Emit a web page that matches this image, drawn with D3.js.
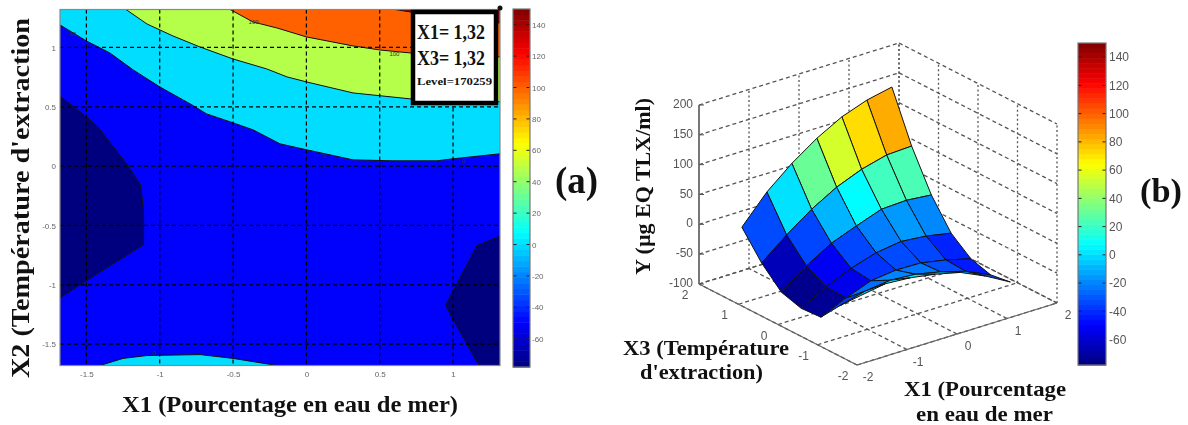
<!DOCTYPE html>
<html lang="en">
<head>
    <meta charset="UTF-8">
    <title>Surface de réponse</title>
    <style>
        html, body { margin: 0; padding: 0; background: #fff; }
        svg { display: block; filter: blur(0.4px); }
        .lbl { font-family: "Liberation Serif", serif; font-weight: bold; fill: #111; }
        .tick text { font-family: "Liberation Sans", sans-serif; }
    </style>
</head>
<body>
    <svg width="1188" height="425"></svg>
    <script src="https://d3js.org/d3.v7.min.js"></script>
    <script>
        // contour panel, boundaries in data units [X1, X2]
        var contourTicks = [-1.5, -1, -0.5, 0, 0.5, 1]
        var colorbarTicks = [-60, -40, -20, 0, 20, 40, 60, 80, 100, 120, 140]
        var boundaryDarkLeft = [[-1.68,.59],[-1.5,.415],[-1.42,.33],[-1.34,.2],[-1.22,.01],[-1.13,-.16],[-1.11,-.38],[-1.11,-.66],[-1.5,-.965],[-1.68,-1.11]]
        var boundaryDarkRight = [[1.32,-.59],[1.163,-.67],[.95,-1.17],[.99,-1.27],[1.177,-1.68]]
        var boundaryCyan = [[-1.68,1.19],[-1.5,1.055],[-1.34,.954],[-1.18,.81],[-1,.668],[-.78,.516],[-.68,.44],[-.5,.365],[-.364,.306],[-.18,.188],[0,.138],[.318,.053],[.59,.045],[.89,.045],[1,.062],[1.32,.104]]
        var boundaryGreen = [[-1.23,1.32],[-1.087,1.198],[-.91,1.097],[-.725,1.004],[-.5,.903],[-.27,.819],[-.132,.752],[0,.71],[.318,.617],[.706,.567],[1.32,.542]]
        var boundaryOrange = [[-.52,1.32],[-.364,1.215],[-.2,1.164],[0,1.089],[.318,1.013],[.5,.979],[.706,.954],[1.32,.92]]
        var boundaryRed = [[.604,1.32],[.706,1.3],[1.32,1.206]]
        var boundaryBottom = [[-1.407,-1.68],[-1.25,-1.62],[-1.087,-1.596],[-.725,-1.588],[-.5,-1.62],[-.2,-1.68]]
        var contourLabels = [[-.36,1.2,'100'],[.6,.93,'100'],[-1.6,1.1,'-60'],[-1.04,-1.59,'0'],[.12,.07,'0'],[1.07,.03,'0']]

        // surface panel, rows go x3 = -1.68 ... 1.32, columns x1 = -1.68 ... 1.32
        var gridAxis = [-1.68, -1.18, -0.68, -0.18, 0.32, 0.82, 1.32]
        var surfaceZ = [
            [-3, 4, 1, -6, -16, -35, -58],
            [-36, -25, -20, -23, -32, -44, -63],
            [-73, -54, -38, -33, -34, -42, -53],
            [-75, -52, -34, -21, -15, -19, -27],
            [-65, -34, -9, 7, 22, 24, 20],
            [-33, 1, 31, 55, 72, 83, 85],
            [10, 56, 91, 120, 143, 158, 167]
        ]
        var floorTicks = [-2, -1, 0, 1, 2]
        var zTicks = [-100, -50, 0, 50, 100, 150, 200]

        var svg = d3.select('svg')

        var jet = d3.scaleLinear()
            .domain([0, .125, .375, .625, .875, 1].map(function(t){return -78 + t*228}))
            .range(['#00007f', '#0000ff', '#00ffff', '#ffff00', '#ff0000', '#7f0000'])

        //---- panel a
        var x = d3.scaleLinear().domain([-1.68, 1.32]).range([60, 500])
        var y = d3.scaleLinear().domain([-1.68, 1.32]).range([365.5, 9.5])
        var line = d3.line().x(function(d){return x(d[0])}).y(function(d){return y(d[1])})
        var TL = [-1.68, 1.32], TR = [1.32, 1.32], BR = [1.32, -1.68]

        var regions = [
            [boundaryCyan.concat([TR, TL]), 0],
            [boundaryGreen.concat([TR]), 48],
            [boundaryOrange.concat([TR]), 100],
            [boundaryRed.concat([TR]), 150],
            [boundaryDarkLeft, -78],
            [boundaryDarkRight.concat([BR]), -78],
            [boundaryBottom, 0]
        ]
        svg.append('rect')
            .attr('x', x(-1.68)).attr('y', y(1.32))
            .attr('width', x(1.32) - x(-1.68)).attr('height', y(-1.68) - y(1.32))
            .attr('fill', jet(-50))
        regions.forEach(function(r){
            svg.append('path').attr('d', line(r[0]) + 'Z').attr('fill', jet(r[1]))
        })
        ;[boundaryCyan, boundaryGreen, boundaryOrange, boundaryRed, boundaryDarkLeft, boundaryDarkRight, boundaryBottom].forEach(function(b){
            svg.append('path').attr('d', line(b)).attr('fill', 'none')
                .attr('stroke', '#111').attr('stroke-width', 1)
        })
        contourLabels.forEach(function(c){
            svg.append('text').attr('x', x(c[0])).attr('y', y(c[1]))
                .attr('text-anchor', 'middle')
                .attr('font-family', 'Liberation Sans').attr('font-size', 6).attr('fill', '#333')
                .text(c[2])
        })

        function styleAxis(g, size, col) {
            g.selectAll('text').attr('font-size', size).attr('fill', col)
            g.select('.domain').remove()
        }
        var xAxis = svg.append('g').attr('transform', 'translate(0,365.5)')
            .call(d3.axisBottom(x).tickValues(contourTicks).tickFormat(function(d){return d}).tickSize(0).tickPadding(6))
        styleAxis(xAxis, 8, '#666')
        var yAxis = svg.append('g').attr('transform', 'translate(60,0)')
            .call(d3.axisLeft(y).tickValues(contourTicks).tickFormat(function(d){return d}).tickSize(0).tickPadding(4))
        styleAxis(yAxis, 8, '#666')

        contourTicks.forEach(function(t){
            svg.append('line').attr('x1', x(t)).attr('x2', x(t)).attr('y1', y(1.32)).attr('y2', y(-1.68))
                .attr('stroke', '#000').attr('stroke-width', 1.2).attr('stroke-dasharray', '4,3')
            svg.append('line').attr('y1', y(t)).attr('y2', y(t)).attr('x1', x(-1.68)).attr('x2', x(1.32))
                .attr('stroke', '#000').attr('stroke-width', 1.2).attr('stroke-dasharray', '4,3')
        })
        svg.append('rect')
            .attr('x', x(-1.68)).attr('y', y(1.32))
            .attr('width', x(1.32) - x(-1.68)).attr('height', y(-1.68) - y(1.32))
            .attr('fill', 'none').attr('stroke', '#888').attr('stroke-width', 1.2)

        // data tip
        svg.append('circle').attr('cx', 500).attr('cy', 8).attr('r', 2.5).attr('fill', '#111')
        svg.append('rect').attr('x', 413).attr('y', 12).attr('width', 83).attr('height', 91)
            .attr('fill', '#fff').attr('stroke', '#000').attr('stroke-width', 4.5)
        function fitted(sel, len) {
            return sel.attr('textLength', len).attr('lengthAdjust', 'spacingAndGlyphs')
        }
        fitted(svg.append('text').attr('class', 'lbl').attr('x', 417).attr('y', 39).attr('font-size', 22).text('X1= 1,32'), 68)
        fitted(svg.append('text').attr('class', 'lbl').attr('x', 417).attr('y', 65).attr('font-size', 22).text('X3= 1,32'), 68)
        fitted(svg.append('text').attr('class', 'lbl').attr('x', 417).attr('y', 85).attr('font-size', 11).text('Level=170259'), 75)

        function colorbar(x0, x1, y0, y1, fontSize, col, pad) {
            var s = d3.scaleLinear().domain([-78, 150]).range([y0, y1])
            var lv = d3.range(64).map(function(i){return -78 + i*228/64})
            svg.append('g').selectAll('rect').data(lv).enter().append('rect')
                .attr('x', x0).attr('width', x1 - x0)
                .attr('y', function(d){return s(d + 228/64)})
                .attr('height', function(d){return s(d) - s(d + 228/64) + .5})
                .attr('fill', function(d){return jet(d + 114/64)})
            var a = svg.append('g').attr('transform', 'translate(' + x1 + ',0)')
                .call(d3.axisRight(s).tickValues(colorbarTicks).tickFormat(function(d){return d}).tickSize(0).tickPadding(pad))
            styleAxis(a, fontSize, col)
            colorbarTicks.forEach(function(t){
                svg.append('line').attr('x1', x0).attr('x2', x0 + 3.5).attr('y1', s(t)).attr('y2', s(t)).attr('stroke', '#222')
                svg.append('line').attr('x1', x1 - 3.5).attr('x2', x1).attr('y1', s(t)).attr('y2', s(t)).attr('stroke', '#222')
            })
            svg.append('rect').attr('x', x0).attr('y', y1).attr('width', x1 - x0).attr('height', y0 - y1)
                .attr('fill', 'none').attr('stroke', '#777').attr('stroke-width', 1.2)
        }
        colorbar(513, 530, 367, 9, 8, '#666', 2)
        colorbar(1078, 1106, 365, 43, 12, '#555', 3)

        //---- panel b
        var x1ToX = d3.scaleLinear().domain([-2, 2]).range([0, 200])
        var x1ToY = d3.scaleLinear().domain([-2, 2]).range([0, -62])
        var x3ToX = d3.scaleLinear().domain([-2, 2]).range([0, -158])
        var x3ToY = d3.scaleLinear().domain([-2, 2]).range([0, -81])
        var zToY = d3.scaleLinear().domain([-100, 200]).range([0, -179])
        function project(a, b, z) {
            return [857 + x1ToX(a) + x3ToX(b), 365 + x1ToY(a) + x3ToY(b) + zToY(z)]
        }
        function seg(p, q, dash, col, w) {
            svg.append('line').attr('x1', p[0]).attr('y1', p[1]).attr('x2', q[0]).attr('y2', q[1])
                .attr('stroke', col || '#555').attr('stroke-width', w || 1.3).attr('stroke-dasharray', dash)
        }
        var slant = '4,3', dotted = '2,2.5'
        floorTicks.forEach(function(t){
            seg(project(t, -2, -100), project(t, 2, -100), slant)     // floor
            seg(project(-2, t, -100), project(2, t, -100), slant)
            seg(project(t, 2, -100), project(t, 2, 200), dotted)      // back walls
            seg(project(2, t, -100), project(2, t, 200), dotted)
        })
        zTicks.forEach(function(z){
            seg(project(-2, 2, z), project(2, 2, z), slant)
            seg(project(2, 2, z), project(2, -2, z), slant)
        })

        // back to front so nearer facets cover the far ones
        for (var j = gridAxis.length - 2; j >= 0; j--) {
            for (var i = gridAxis.length - 2; i >= 0; i--) {
                var pts = [
                    project(gridAxis[i], gridAxis[j], surfaceZ[j][i]),
                    project(gridAxis[i + 1], gridAxis[j], surfaceZ[j][i + 1]),
                    project(gridAxis[i + 1], gridAxis[j + 1], surfaceZ[j + 1][i + 1]),
                    project(gridAxis[i], gridAxis[j + 1], surfaceZ[j + 1][i])
                ]
                svg.append('polygon')
                    .attr('points', pts.join(' '))
                    .attr('fill', jet(surfaceZ[j][i]))
                    .attr('stroke', '#111').attr('stroke-width', 1).attr('stroke-linejoin', 'round')
            }
        }

        // box edges and tick labels
        seg(project(-2, 2, -100), project(-2, 2, 200), null, '#777', 2)
        seg(project(-2, 2, -100), project(-2, -2, -100), null, '#666', 1.2)
        seg(project(-2, -2, -100), project(2, -2, -100), null, '#666', 1.2)
        function tickText(p, t, anchor) {
            svg.append('text').attr('x', p[0]).attr('y', p[1])
                .attr('text-anchor', anchor || 'middle')
                .attr('font-family', 'Liberation Sans').attr('font-size', 12).attr('fill', '#555')
                .text(t)
        }
        zTicks.forEach(function(z){
            var p = project(-2, 2, z)
            seg(p, [p[0] + 5, p[1]], null, '#555', 1)
            tickText([p[0] - 6, p[1] + 3], z, 'end')
        })
        floorTicks.forEach(function(t){
            var a = project(-2, t, -100), b = project(t, -2, -100)
            tickText([a[0] - 14, a[1] + 15], t)
            tickText([b[0] + 11, b[1] + 16], t)
        })

        //---- titles
        function label(txt, px, py, size, len, rot) {
            var s = fitted(svg.append('text').attr('class', 'lbl').attr('font-size', size).text(txt), len)
            if (rot) s.attr('transform', 'translate(' + px + ',' + py + ') rotate(' + rot + ')')
            else s.attr('x', px).attr('y', py)
        }
        label('X1 (Pourcentage en eau de mer)', 122, 412, 24, 336)
        label('X2 (Température d\'extraction', 29, 378, 25, 360, -90)
        label('(a)', 555, 193, 38, 43)
        label('(b)', 1140, 202, 34, 42)
        label('Y (µg EQ TLX/ml)', 650, 275, 20, 177, -90)
        label('X3 (Température', 623, 355, 20, 166)
        label('d\'extraction)', 640, 379, 21, 123)
        label('X1 (Pourcentage', 904, 396, 21, 162)
        label('en eau de mer', 916, 420.5, 20, 137)
    </script>
</body>
</html>
